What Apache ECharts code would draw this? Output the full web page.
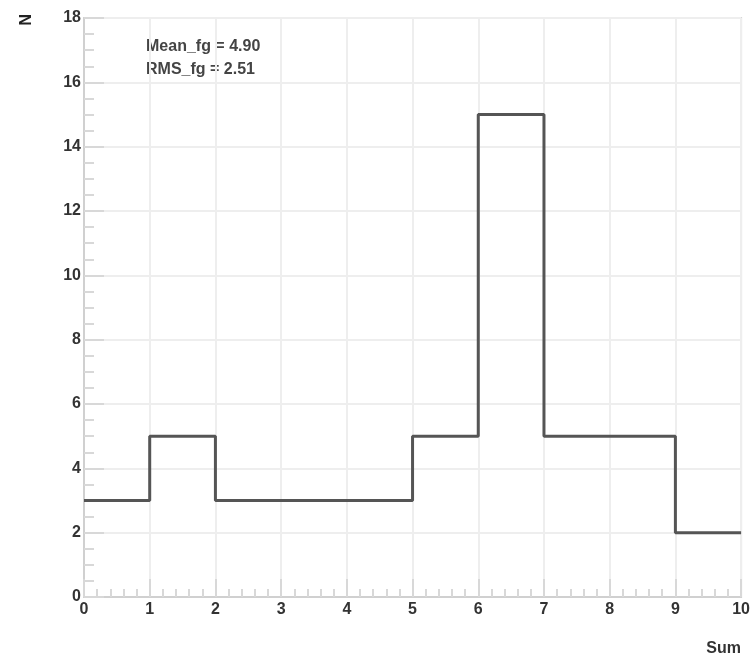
<!DOCTYPE html>
<html><head><meta charset="utf-8">
<script src="https://cdn.jsdelivr.net/npm/echarts@6/dist/echarts.min.js"></script>
<style>html,body{margin:0;padding:0;background:#fff}#c{width:753px;height:660px}</style>
</head><body><div id="c"></div>
<script>
var binEdges = [0,1,2,3,4,5,6,7,8,9,10];
var binCounts = [3,5,3,3,3,5,15,5,5,2];
var statsLines = ["Mean_fg = 4.90", "RMS_fg = 2.51"];
var xTitle = "Sum";
var yTitle = "N";

var stepData = [];
for (var i = 0; i < binCounts.length; i++) stepData.push([binEdges[i], binCounts[i]]);
stepData.push([binEdges[binEdges.length-1], binCounts[binCounts.length-1]]);

var font = "'Liberation Sans Narrow','Liberation Sans',Arial,sans-serif";
var chart = echarts.init(document.getElementById('c'));
chart.setOption({
  animation:false,
  grid:{left:84,right:10,top:18,bottom:63,show:true,borderColor:'#d4d4d4',borderWidth:2},
  xAxis:{type:'value',min:0,max:10,interval:1,
    axisLine:{show:true,onZero:false,lineStyle:{color:'#d0d0d0',width:2}},
    axisTick:{show:true,inside:true,length:18,lineStyle:{color:'#d8d8d8',width:2}},
    minorTick:{show:true,splitNumber:5,length:8,lineStyle:{color:'#d8d8d8',width:2}},
    splitLine:{show:true,lineStyle:{color:'#eeeeee',width:2}},
    axisLabel:{color:'#333',fontWeight:'bold',fontSize:16,fontFamily:font,margin:5}},
  yAxis:{type:'value',min:0,max:18,interval:2,
    axisLine:{show:true,onZero:false,lineStyle:{color:'#d0d0d0',width:2}},
    axisTick:{show:true,inside:true,length:20,lineStyle:{color:'#d8d8d8',width:2}},
    minorTick:{show:true,splitNumber:4,length:10,lineStyle:{color:'#d8d8d8',width:2}},
    splitLine:{show:true,lineStyle:{color:'#eeeeee',width:2}},
    axisLabel:{color:'#333',fontWeight:'bold',fontSize:16,fontFamily:font,margin:3}},
  series:[{type:'line',step:'end',data:stepData,symbol:'none',
    lineStyle:{color:'#555',width:3},z:5}],
  graphic:[
    {type:'text',left:146,top:35,style:{text:statsLines.join('\n'),fill:'#444',font:'bold 16px '+font,lineHeight:23}},
    {type:'text',left:15,top:14,rotation:-Math.PI/2,originX:0,originY:0,style:{text:yTitle,fill:'#222',font:'bold 16px '+font}},
    {type:'text',right:12,top:641,style:{text:xTitle,fill:'#333',font:'bold 16px '+font}}
  ]
});
</script></body></html>
